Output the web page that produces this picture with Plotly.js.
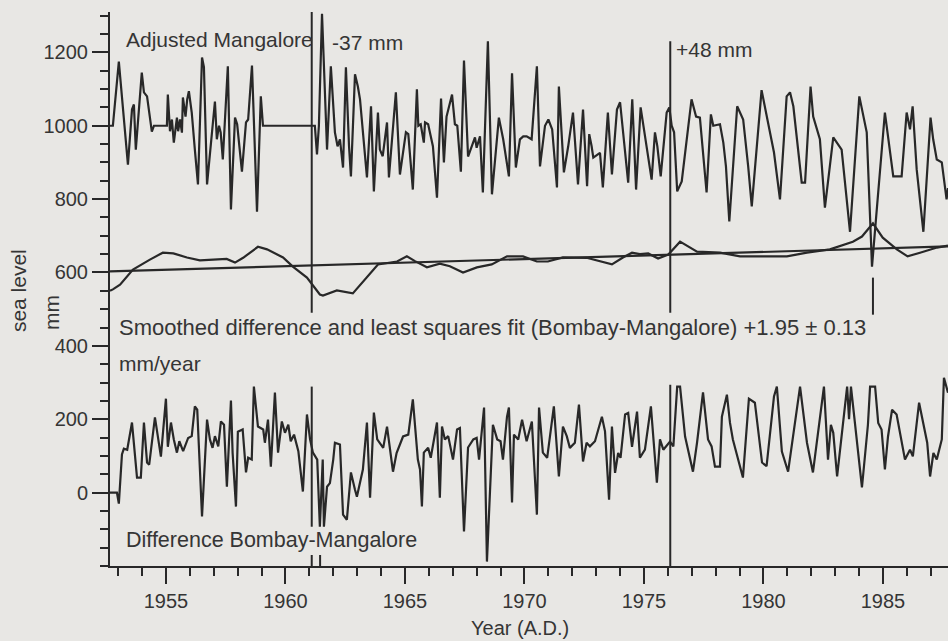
<!DOCTYPE html>
<html>
<head>
<meta charset="utf-8">
<script src="https://cdn.plot.ly/plotly-3.0.1.min.js"></script>
<style>html,body{margin:0;padding:0;background:#e8e7e4;}</style>
</head>
<body>
<div id="chart" style="width:948px;height:641px;"></div>
<script>
// Adjusted Mangalore monthly sea level (mm), vertices
const mangYears = [1952.66,1952.78,1953.03,1953.41,1953.58,1953.66,1953.74,1953.99,1954.08,1954.21,1954.41,1954.50,1955.04,1955.08,1955.17,1955.25,1955.33,1955.46,1955.51,1955.59,1955.67,1955.71,1955.82,1955.89,1955.96,1956.08,1956.21,1956.34,1956.51,1956.59,1956.72,1956.92,1957.05,1957.13,1957.22,1957.29,1957.38,1957.59,1957.72,1957.89,1957.98,1958.18,1958.35,1958.44,1958.60,1958.81,1958.97,1959.06,1961.23,1961.32,1961.40,1961.53,1961.74,1961.90,1962.07,1962.18,1962.28,1962.41,1962.53,1962.66,1962.74,1962.91,1963.03,1963.12,1963.26,1963.41,1963.58,1963.70,1963.87,1963.95,1964.07,1964.25,1964.33,1964.62,1964.79,1965.04,1965.14,1965.33,1965.50,1965.56,1965.66,1965.79,1965.84,1965.97,1966.17,1966.34,1966.51,1966.63,1966.74,1966.97,1967.09,1967.19,1967.34,1967.47,1967.64,1967.79,1967.86,1967.93,1968.00,1968.14,1968.26,1968.47,1968.64,1968.77,1968.93,1969.11,1969.35,1969.48,1969.64,1969.81,1969.95,1970.09,1970.30,1970.52,1970.65,1970.86,1971.00,1971.16,1971.36,1971.44,1971.65,1971.83,1972.03,1972.24,1972.45,1972.62,1972.71,1972.81,1972.88,1973.16,1973.28,1973.49,1973.66,1973.87,1974.00,1974.34,1974.51,1974.67,1974.86,1975.32,1975.46,1975.56,1975.70,1975.95,1976.06,1976.16,1976.26,1976.39,1976.58,1976.99,1977.18,1977.34,1977.62,1977.80,1977.90,1978.18,1978.32,1978.43,1978.57,1978.90,1979.15,1979.36,1979.51,1979.92,1980.13,1980.44,1980.69,1980.97,1981.11,1981.25,1981.60,1981.74,1981.97,1982.08,1982.36,1982.57,1982.92,1983.27,1983.62,1984.01,1984.32,1984.54,1985.08,1985.43,1985.78,1985.99,1986.13,1986.24,1986.41,1986.69,1986.99,1987.10,1987.25,1987.46,1987.66,1987.72];
const mangValues = [1000,1000,1175,894,1044,1058,935,1145,1091,1080,984,1000,1000,1085,985,1017,954,1022,985,1017,981,1077,1025,1072,1094,1036,935,840,1186,1160,840,982,1066,963,1000,982,908,1162,772,1022,1004,875,1009,1017,1164,766,1080,1000,1000,922,1000,1305,935,1162,982,944,963,886,1159,944,862,1140,1107,1072,963,859,1053,821,1036,935,917,1009,859,1091,867,982,977,826,1099,1000,1004,954,1009,1004,944,804,1074,900,1025,1085,1004,1000,875,1178,916,941,957,968,940,971,818,1230,813,908,1022,963,862,1143,886,963,971,971,963,1162,889,1000,1017,990,832,1107,873,944,1036,840,1044,835,977,944,913,926,832,1036,867,1044,1064,845,1072,826,1050,853,982,944,862,1036,1050,1000,982,821,848,1072,1025,1022,818,1031,1000,1004,954,889,739,1053,1017,889,780,1097,1031,927,799,1080,1091,1053,845,845,1107,1025,963,777,968,935,711,1080,982,616,1036,862,862,1036,990,1053,881,711,1022,963,908,900,799,830];

// Smoothed difference (Bombay - Mangalore), mm
const smoothYears = [1952.66,1952.78,1953.08,1953.62,1954.33,1954.87,1955.31,1955.88,1956.42,1956.97,1957.54,1957.89,1958.23,1958.85,1959.23,1959.90,1960.31,1960.90,1961.44,1961.57,1962.15,1962.82,1963.41,1963.87,1964.67,1965.08,1965.42,1965.92,1966.46,1966.88,1967.43,1968.01,1968.63,1969.27,1969.94,1970.52,1970.98,1971.61,1972.60,1973.16,1973.66,1974.12,1974.50,1974.83,1975.18,1975.59,1976.02,1976.51,1977.22,1978.18,1979.02,1979.98,1980.98,1981.82,1982.78,1983.74,1984.12,1984.58,1984.99,1985.58,1986.03,1986.55,1987.26,1987.72];
const smoothValues = [550,554,567,608,635,654,652,641,633,635,637,627,640,670,663,641,616,586,540,537,551,543,586,622,630,644,631,614,624,617,600,614,622,644,644,630,630,641,640,630,622,641,654,650,652,638,649,684,657,654,644,644,644,654,663,684,698,734,695,663,644,654,668,673];

// Least squares fit, +1.95 mm/year
const fitYears = [1952.66, 1987.72];
const fitValues = [603, 671];

// Difference Bombay - Mangalore (mm)
const diffYears = [1952.66,1952.78,1952.95,1953.03,1953.16,1953.24,1953.38,1953.58,1953.79,1953.95,1954.08,1954.21,1954.30,1954.54,1954.79,1955.00,1955.08,1955.21,1955.33,1955.46,1955.56,1955.72,1955.93,1956.08,1956.21,1956.31,1956.51,1956.72,1956.84,1956.95,1957.05,1957.19,1957.30,1957.43,1957.55,1957.72,1957.79,1957.93,1958.01,1958.21,1958.35,1958.44,1958.59,1958.68,1958.85,1959.07,1959.14,1959.27,1959.39,1959.56,1959.69,1959.85,1959.98,1960.12,1960.22,1960.36,1960.54,1960.73,1960.90,1961.03,1961.15,1961.33,1961.44,1961.56,1961.61,1961.74,1961.86,1962.00,1962.07,1962.28,1962.41,1962.57,1962.74,1962.91,1962.99,1963.24,1963.41,1963.54,1963.70,1963.84,1963.95,1964.09,1964.25,1964.50,1964.65,1964.92,1965.14,1965.33,1965.54,1965.63,1965.71,1965.79,1965.97,1966.08,1966.34,1966.46,1966.55,1966.67,1966.81,1967.01,1967.18,1967.30,1967.47,1967.64,1967.86,1968.00,1968.10,1968.31,1968.43,1968.68,1968.86,1969.00,1969.10,1969.27,1969.35,1969.48,1969.56,1969.74,1969.90,1970.09,1970.31,1970.52,1970.61,1970.77,1970.95,1971.23,1971.44,1971.61,1971.77,1971.90,1972.11,1972.28,1972.45,1972.60,1972.74,1972.95,1973.24,1973.37,1973.54,1973.66,1973.79,1973.92,1974.02,1974.21,1974.34,1974.50,1974.71,1974.83,1975.04,1975.29,1975.54,1975.67,1975.81,1976.09,1976.23,1976.39,1976.51,1976.72,1977.05,1977.22,1977.47,1977.68,1977.83,1977.97,1978.18,1978.26,1978.47,1978.60,1978.72,1979.14,1979.39,1979.64,1979.94,1980.13,1980.44,1980.56,1980.77,1981.03,1981.53,1981.82,1982.07,1982.53,1982.70,1982.82,1982.92,1983.08,1983.50,1983.58,1983.66,1984.12,1984.37,1984.46,1984.67,1984.80,1984.94,1985.08,1985.21,1985.38,1985.57,1985.78,1985.92,1986.13,1986.25,1986.51,1986.85,1986.97,1987.11,1987.25,1987.46,1987.55,1987.72];
const diffValues = [0,0,0,-30,104,120,117,191,41,41,191,82,76,205,98,256,125,191,145,109,140,113,149,154,235,226,-65,199,145,122,154,126,194,185,16,251,108,-38,166,172,55,95,90,289,180,172,136,199,71,273,109,194,163,185,140,158,113,3,213,145,109,90,-93,90,-93,16,26,90,136,131,-60,-74,55,8,-11,63,191,-14,218,145,136,122,180,57,108,153,158,254,90,63,-38,109,122,95,191,-14,180,145,154,90,172,176,-106,123,145,149,90,232,-188,185,145,140,90,207,232,-27,158,145,199,140,194,-60,232,109,95,235,44,180,154,122,136,240,85,136,126,140,207,167,-19,180,54,108,95,213,217,125,221,95,117,235,27,145,117,139,126,289,289,153,57,136,273,145,126,71,71,207,267,190,145,41,256,245,82,72,262,289,112,57,289,136,55,289,90,185,163,44,289,200,289,14,185,289,289,190,172,63,153,226,213,145,90,117,99,245,136,44,108,90,145,313,272];

// Datum shift markers (year, low value, high value)
const markerYears = [1961.1, 1961.1, 1976.1, 1976.1, 1984.58, 1961.1, 1961.45];
const markerLow   = [490, -93, 490, -200, 485, -200, -200];
const markerHigh  = [1310, 289, 1230, 294, 586, -170, -170];

const yTicks = [0, 200, 400, 600, 800, 1000, 1200];

const ink = '#282828';
const txt = '#353535';
const fam = 'Liberation Sans, Arial, Helvetica, sans-serif';
const lineStyle = {color: ink, width: 2.2};

const traces = [
  {x: mangYears, y: mangValues, mode: 'lines', line: lineStyle, hoverinfo: 'skip'},
  {x: smoothYears, y: smoothValues, mode: 'lines', line: lineStyle, hoverinfo: 'skip'},
  {x: fitYears, y: fitValues, mode: 'lines', line: lineStyle, hoverinfo: 'skip'},
  {x: diffYears, y: diffValues, mode: 'lines', line: lineStyle, hoverinfo: 'skip'}
];

const shapes = markerYears.map((yr, i) => ({
  type: 'line', xref: 'x', yref: 'y', x0: yr, x1: yr, y0: markerLow[i], y1: markerHigh[i],
  line: {color: ink, width: 2}
}));

const ann = (text, x, y, size) => ({
  text, x, y, xref: 'x', yref: 'y', xanchor: 'left', yanchor: 'middle', showarrow: false,
  font: {family: fam, size: size || 21, color: txt}
});

const annotations = [
  ann('Adjusted Mangalore', 1953.25, 1234, 21),
  ann('-37 mm', 1961.87, 1226, 21),
  ann('+48 mm', 1976.27, 1209, 21),
  ann('Smoothed difference and least squares fit (Bombay-Mangalore) +1.95 ± 0.13', 1952.96, 451, 22),
  ann('mm/year', 1952.96, 353, 21),
  ann('Difference Bombay-Mangalore', 1953.25, -129, 21.5),
  {text: 'sea level', xref: 'paper', yref: 'paper', x: -0.1098, y: 0.498, textangle: -90,
   xanchor: 'center', yanchor: 'middle', showarrow: false, font: {family: fam, size: 21, color: txt}},
  {text: 'mm', xref: 'paper', yref: 'paper', x: -0.0692, y: 0.4567, textangle: -90,
   xanchor: 'center', yanchor: 'middle', showarrow: false, font: {family: fam, size: 21, color: txt}},
  {text: 'Year (A.D.)', xref: 'paper', yref: 'paper', x: 0.489, y: -0.112,
   xanchor: 'center', yanchor: 'middle', showarrow: false, font: {family: fam, size: 20, color: txt}}
];

const layout = {
  width: 948, height: 641,
  margin: {l: 110, r: 0, t: 12, b: 75, pad: 0},
  paper_bgcolor: '#e8e7e4', plot_bgcolor: '#e8e7e4',
  showlegend: false,
  xaxis: {
    range: [1952.66, 1987.72], showgrid: false, zeroline: false,
    showline: true, linecolor: ink, linewidth: 2,
    ticks: 'outside', ticklen: 16, tickwidth: 2, tickcolor: ink,
    tick0: 1955, dtick: 5,
    tickfont: {family: fam, size: 20, color: txt},
    minor: {ticks: 'outside', dtick: 1, tick0: 1955, ticklen: 8, tickwidth: 2, tickcolor: ink, showgrid: false}
  },
  yaxis: {
    range: [-200, 1310], showgrid: false, zeroline: false,
    showline: true, linecolor: ink, linewidth: 2,
    ticks: 'outside', ticklen: 16, tickwidth: 2, tickcolor: ink,
    tickvals: yTicks, ticktext: yTicks.map(String),
    tickfont: {family: fam, size: 20, color: txt},
    minor: {ticks: 'outside', dtick: 50, tick0: 0, ticklen: 8, tickwidth: 2, tickcolor: ink, showgrid: false}
  },
  shapes, annotations
};

Plotly.newPlot('chart', traces, layout, {staticPlot: true, displayModeBar: false});
</script>
</body>
</html>
